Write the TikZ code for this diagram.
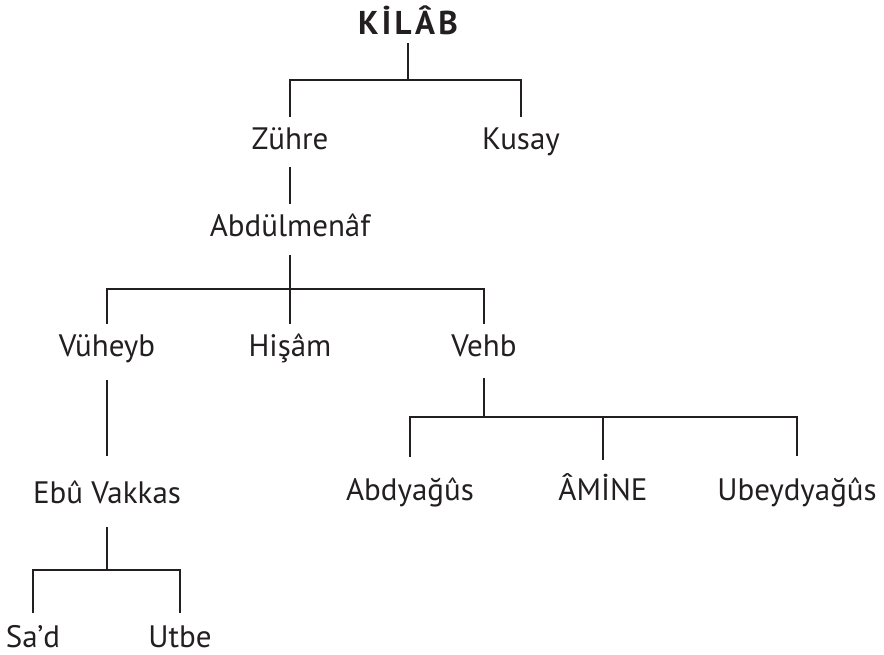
\documentclass[tikz,border=0pt]{standalone}
\usepackage{fontspec}
\setmainfont{PT Sans}
\definecolor{ink}{HTML}{231F20}
\begin{document}
\begin{tikzpicture}[x=1pt,y=-1pt,
  nm/.style={font=\fontsize{31}{37}\selectfont, text=ink, inner sep=0pt, anchor=base,
             text height=33pt, text depth=18pt},
  ttl/.style={font=\fontsize{33}{39}\selectfont\bfseries\addfontfeature{LetterSpace=10}, text=ink,
             inner sep=0pt, anchor=base, text height=24pt, text depth=8pt},
  link/.style={draw=ink, line width=2.4pt}]
\useasboundingbox (0,0) rectangle (884,655);
% nodes
\node[ttl] (kilab) at (408,35) {KİLÂB};
\node[nm, text depth=17pt] (zuhre) at (290,150) {Zühre};
\node[nm] (kusay) at (521,150) {Kusay};
\node[nm] (abdul) at (290,237) {Abdülmenâf};
\node[nm, text height=32pt, text depth=24pt] (vuheyb) at (107,356) {Vüheyb};
\node[nm, text height=32pt] (hisam) at (290,356) {Hişâm};
\node[nm, text height=32pt, text depth=22pt] (vehb) at (484,356) {Vehb};
\node[nm, text height=47pt, text depth=24pt] (ebu) at (107,503) {Ebû Vakkas};
\node[nm, text height=34pt] (sad) at (33,647) {Sa’d};
\node[nm, text height=34pt] (utbe) at (180,647) {Utbe};
\node[nm, text height=43pt] (abdy) at (410,500) {Abdyağûs};
\node[nm, text height=40pt] (amine) at (603,500) {ÂMİNE};
\node[nm, text height=44pt] (ubey) at (797,500) {Ubeydyağûs};
% junctions
\coordinate (f1) at (408,80);
\coordinate (f2) at (290,289);
\coordinate (f3) at (484,417);
\coordinate (f4) at (107,570);
% connectors
\draw[link] (kilab.south) -- (f1);
\draw[link] (zuhre.north) |- (f1) -| (kusay.north);
\draw[link] (zuhre.south) -- (abdul.north);
\draw[link] (abdul.south) -- (f2);
\draw[link] (vuheyb.north) |- (f2) -| (vehb.north);
\draw[link] (hisam.north) -- (f2);
\draw[link] (vuheyb.south) -- (ebu.north);
\draw[link] (vehb.south) -- (f3);
\draw[link] (abdy.north) |- (f3) -| (ubey.north);
\draw[link] (amine.north) -- (amine.north |- f3);
\draw[link] (ebu.south) -- (f4);
\draw[link] (sad.north) |- (f4) -| (utbe.north);
\end{tikzpicture}
\end{document}
